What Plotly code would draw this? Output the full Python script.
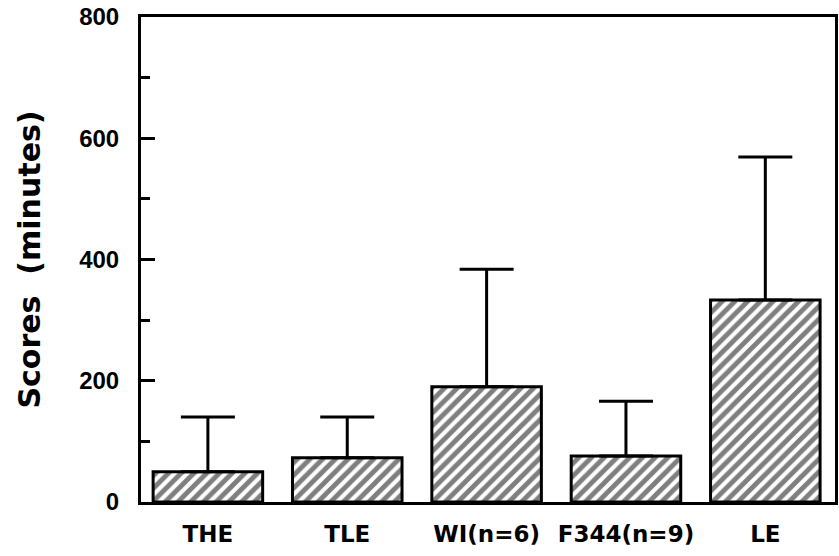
import plotly.graph_objects as go

categories = ["THE", "TLE", "WI(n=6)", "F344(n=9)", "LE"]
means = [50, 73, 190, 76, 333]
upper_sd = [140, 140, 384, 166, 569]

errors = [u - m for u, m in zip(upper_sd, means)]

fig = go.Figure()
fig.add_trace(go.Bar(
    x=categories,
    y=means,
    width=0.786,
    marker=dict(
        color="white",
        line=dict(color="black", width=3),
        pattern=dict(shape="/", fgcolor="black", bgcolor="white", size=9, solidity=0.55),
    ),
    error_y=dict(
        type="data",
        symmetric=False,
        array=errors,
        arrayminus=[0] * len(errors),
        color="black",
        thickness=3,
        width=27,
    ),
    showlegend=False,
    hoverinfo="skip",
))

fig.update_layout(
    width=839,
    height=556,
    margin=dict(l=141, r=1, t=17, b=54),
    paper_bgcolor="white",
    plot_bgcolor="white",
    font=dict(color="black"),
)

fig.update_xaxes(
    range=[-0.48, 4.5],
    showline=True, linewidth=3, linecolor="black", mirror=True,
    ticks="", showgrid=False, zeroline=False,
    tickfont=dict(family="DejaVu Sans", size=23, weight="bold", color="black"),
    ticklabelstandoff=9,
)

fig.update_yaxes(
    range=[0, 800],
    dtick=200,
    ticks="inside", ticklen=14, tickwidth=3, tickcolor="black",
    minor=dict(dtick=100, ticks="inside", ticklen=9, tickwidth=3, tickcolor="black", showgrid=False),
    showline=True, linewidth=3, linecolor="black", mirror=True,
    showgrid=False, zeroline=False,
    tickfont=dict(family="Arial", size=24, weight="bold", color="black"),
    ticklabelstandoff=14,
    title=dict(text="Scores\u00a0 (minutes)", standoff=30,
               font=dict(family="DejaVu Sans", size=30, weight="bold", color="black")),
)

fig.write_html("out.html", config={"displayModeBar": False},
               post_script="document.body.style.margin='0';")
